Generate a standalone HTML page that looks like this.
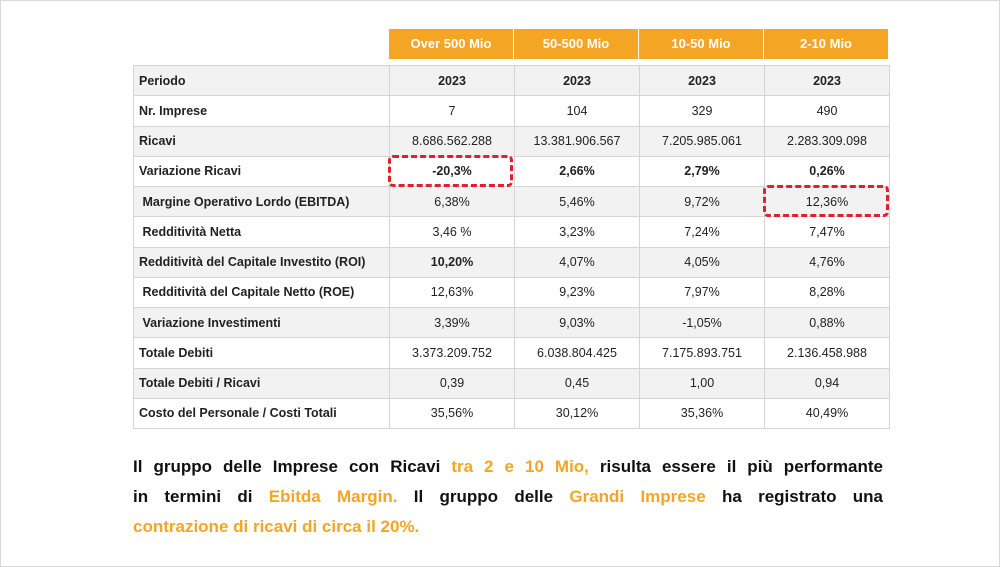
<!DOCTYPE html>
<html><head><meta charset="utf-8"><style>
body{margin:0;width:1000px;height:567px;background:#fff;position:relative;overflow:hidden;font-family:"Liberation Sans",sans-serif}
.frame{position:absolute;left:0;top:0;width:998px;height:565px;border:1px solid #d9d9d9}
.hdr{position:absolute;top:29px;height:30px;background:#f5a524;color:#fff;font-weight:bold;font-size:13px;line-height:30px;text-align:center;width:124px}
table{position:absolute;left:133px;top:65px;border-collapse:collapse;font-size:12.5px;color:#222}
td{height:29.25px;border:1px solid #d4d4d4;padding:0;text-align:center;width:124px}
td:first-child{text-align:left;padding-left:5px;width:250px;font-weight:bold}
tr:nth-child(odd) td{background:#f2f2f2}
.b{font-weight:bold}
.box{position:absolute;border:3px dashed #e0202a;border-radius:5px;box-sizing:border-box}
.txt{position:absolute;left:133px;top:452px;width:750px;font-weight:bold;font-size:17px;line-height:30px;color:#111}
.l{text-align:justify;text-align-last:justify;white-space:nowrap}
.o{color:#f5a524}
</style></head><body>
<div class="frame"></div>
<div class="hdr" style="left:389px">Over 500 Mio</div>
<div class="hdr" style="left:514px">50-500 Mio</div>
<div class="hdr" style="left:639px">10-50 Mio</div>
<div class="hdr" style="left:764px">2-10 Mio</div>
<table>
<tr><td>Periodo</td><td class="b">2023</td><td class="b">2023</td><td class="b">2023</td><td class="b">2023</td></tr>
<tr><td>Nr. Imprese</td><td>7</td><td>104</td><td>329</td><td>490</td></tr>
<tr><td>Ricavi</td><td>8.686.562.288</td><td>13.381.906.567</td><td>7.205.985.061</td><td>2.283.309.098</td></tr>
<tr><td>Variazione Ricavi</td><td class="b">-20,3%</td><td class="b">2,66%</td><td class="b">2,79%</td><td class="b">0,26%</td></tr>
<tr><td>&nbsp;Margine Operativo Lordo (EBITDA)</td><td>6,38%</td><td>5,46%</td><td>9,72%</td><td>12,36%</td></tr>
<tr><td>&nbsp;Redditività Netta</td><td>3,46 %</td><td>3,23%</td><td>7,24%</td><td>7,47%</td></tr>
<tr><td>Redditività del Capitale Investito (ROI)</td><td class="b">10,20%</td><td>4,07%</td><td>4,05%</td><td>4,76%</td></tr>
<tr><td>&nbsp;Redditività del Capitale Netto (ROE)</td><td>12,63%</td><td>9,23%</td><td>7,97%</td><td>8,28%</td></tr>
<tr><td>&nbsp;Variazione Investimenti</td><td>3,39%</td><td>9,03%</td><td>-1,05%</td><td>0,88%</td></tr>
<tr><td>Totale Debiti</td><td>3.373.209.752</td><td>6.038.804.425</td><td>7.175.893.751</td><td>2.136.458.988</td></tr>
<tr><td>Totale Debiti / Ricavi</td><td>0,39</td><td>0,45</td><td>1,00</td><td>0,94</td></tr>
<tr><td>Costo del Personale / Costi Totali</td><td>35,56%</td><td>30,12%</td><td>35,36%</td><td>40,49%</td></tr>
</table>
<div class="box" style="left:388px;top:155px;width:125px;height:32px"></div>
<div class="box" style="left:763px;top:185px;width:126px;height:32px"></div>
<div class="txt">
<div class="l">Il gruppo delle Imprese con Ricavi <span class="o">tra 2 e 10 Mio,</span> risulta essere il più performante</div>
<div class="l">in termini di <span class="o">Ebitda Margin.</span> Il gruppo delle <span class="o">Grandi Imprese</span> ha registrato una</div>
<div><span class="o">contrazione di ricavi di circa il 20%.</span></div>
</div>
</body></html>
